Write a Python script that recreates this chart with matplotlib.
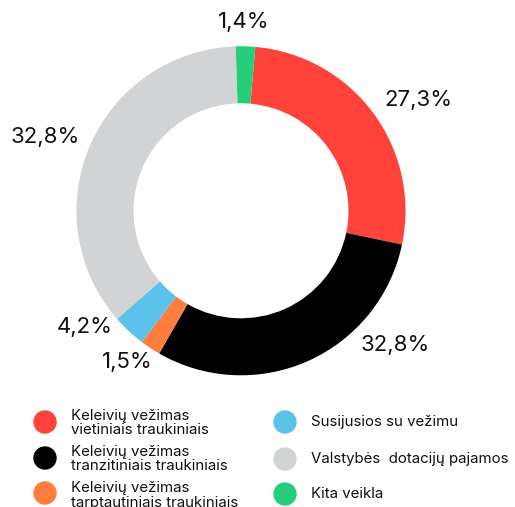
import matplotlib
matplotlib.use("Agg")
import matplotlib.pyplot as plt
from matplotlib.patches import Circle

categories = ["Keleivių vežimas\nvietiniais traukiniais",
              "Keleivių vežimas\ntranzitiniais traukiniais",
              "Keleivių vežimas\ntarptautiniais traukiniais",
              "Susijusios su vežimu",
              "Valstybės  dotacijų pajamos",
              "Kita veikla"]
# slice sizes as drawn in the picture (share of the ring, %)
values = [26.9, 30.0, 2.0, 3.3, 35.9, 1.9]
# printed labels
labels = ["27,3%", "32,8%", "1,5%", "4,2%", "32,8%", "1,4%"]
colors = ["#FF433A", "#000000", "#FF7E3D", "#5BC3E9", "#D1D3D4", "#26CE7B"]

W, H = 515, 507
fig = plt.figure(figsize=(W/100, H/100), dpi=100)
ax = fig.add_axes([0, 0, 1, 1])

cx, cy, R = 241, H - 210.8, 164.5
ax.pie(values, colors=colors, startangle=85, counterclock=False,
       center=(cx, cy), radius=R, frame=True,
       wedgeprops=dict(width=57, edgecolor="none"))
ax.set_xlim(0, W)
ax.set_ylim(0, H)
ax.set_aspect("equal")
ax.axis("off")

font = ["Inter", "DejaVu Sans"]
label_pos = [(418, 100), (395, 345), (127, 362), (85, 327), (45, 137), (244, 22)]
for lab, (x, y) in zip(labels, label_pos):
    ax.text(x, H - y, lab, ha="center", va="center", fontsize=16, family=font, color="#111111")

# legend
leg_pos = [(45, 422), (45, 458), (45, 493), (285, 422), (285, 459), (285, 494)]
text_dy = [1, 1, 2.5, 0, 0, 0]
for cat, col, (x, y), dy in zip(categories, colors, leg_pos, text_dy):
    ax.add_patch(Circle((x, H - y), 11, color=col, clip_on=False))
    ax.text(x + 26, H - y - dy, cat, ha="left", va="center", fontsize=10.8, family=font,
            color="#111111", linespacing=1.03)

fig.savefig("out.png", dpi=100)
